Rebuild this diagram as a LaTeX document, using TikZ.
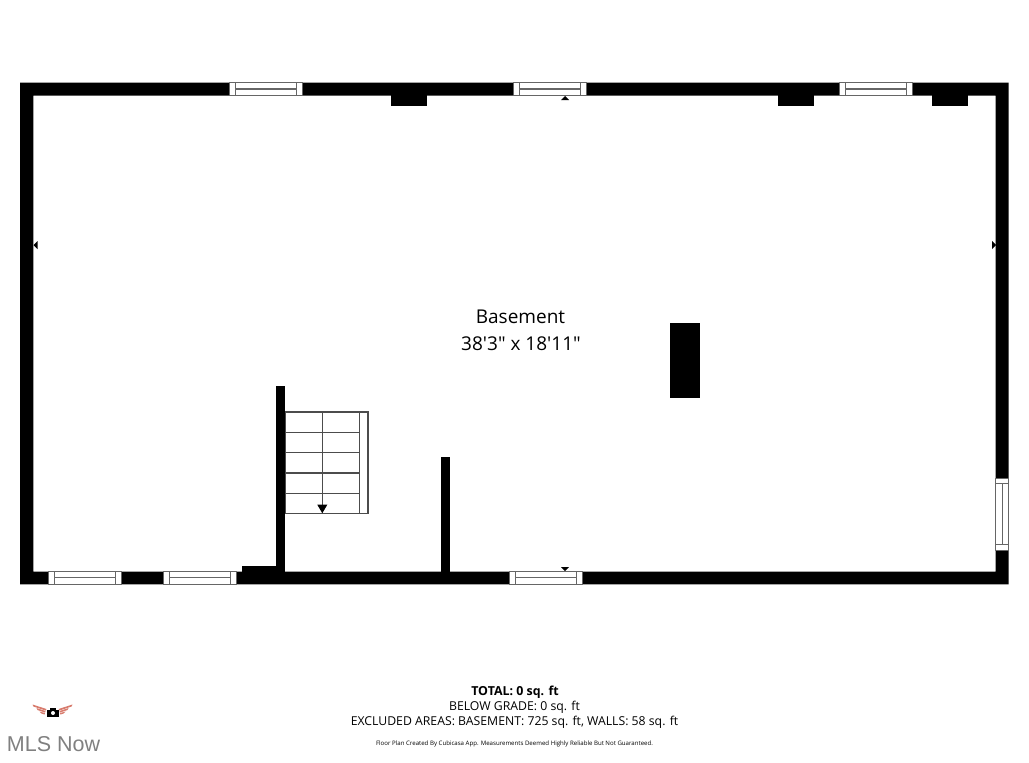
\documentclass[tikz,border=0pt]{standalone}
\usepackage{fontspec}
\newfontfamily\planfont{Open Sans}
\newfontfamily\logofont{Liberation Sans}
\definecolor{wallgray}{gray}{0.4}
\definecolor{wingred}{RGB}{216,124,110}
\tikzset{
	wallpart/.style={fill=black, draw=none},
	frameline/.style={draw=wallgray, line width=1.1pt, fill=white},
	stairline/.style={draw=black!70, line width=1.1pt},
	planlabel/.style={inner sep=0pt, anchor=center}
}
\begin{document}
\begin{tikzpicture}[x=1pt, y=-1pt]
	\useasboundingbox (0, 0) rectangle (1029, 763);

	%walls
	\fill [wallpart, even odd rule] (20, 82.5) rectangle (1008.7, 584.3) (33.3, 95.5) rectangle (995.7, 571.7);
	\foreach \xa/\ya/\xb/\yb in {
		391.3/95/427/106.3,
		778.3/95/814.3/106.3,
		932.3/95/968.3/106.3,
		670/323/700/397.5,
		276/385.7/285.3/572,
		242.3/565.7/276/572,
		440.7/457.3/450/572
	}\fill [wallpart] (\xa, \ya) rectangle (\xb, \yb);

	%windows along top and bottom
	\foreach \x/\y in {229.3/82.5, 513.3/82.5, 839.3/82.5, 48.3/571.4, 163.5/571.4, 509.3/571.4}{
		\draw [frameline] (\x, \y) rectangle ++(73.3, 13);
		\draw [frameline] (\x + 6.2, \y) rectangle ++(60.9, 13);
		\draw [frameline] (\x + 6.2, \y + 6.5) -- ++(60.9, 0);
	}

	%window on the right
	\draw [frameline] (995.7, 478.3) rectangle (1008.7, 550.7);
	\draw [frameline] (995.7, 483.6) rectangle (1008.7, 544.6);
	\draw [frameline] (1002.2, 483.6) -- (1002.2, 544.6);

	%marks
	\foreach \xa/\ya/\xb/\yb/\xc/\yc in {
		561/100/569/100/565/96,
		561/567/569/567/565/571,
		37.5/241/37.5/249/33.5/245,
		992/241/992/249/996/245
	}\fill [black] (\xa, \ya) -- (\xb, \yb) -- (\xc, \yc) -- cycle;

	%stairs
	\draw [stairline] (285.3, 412) rectangle (359.3, 513.3);
	\draw [stairline] (359.3, 412) rectangle (368, 513.3);
	\foreach \y in {432.3, 452.7, 473, 493.3}
		\draw [stairline] (285.3, \y) -- (359.3, \y);
	\draw [stairline] (322.3, 412) -- (322.3, 505);
	\fill [black] (317.3, 504.7) -- (327.3, 504.7) -- (322.3, 513.3) -- cycle;

	%labels
	\node [planlabel, font=\planfont\fontsize{19}{22}\selectfont] (roomname) at (520.5, 316.5) {Basement};
	\node [planlabel, font=\planfont\fontsize{19}{22}\selectfont] (roomsize) at (521, 343.5) {38'3" x 18'11"};
	\node [planlabel, font=\planfont\bfseries\fontsize{12.4}{15}\selectfont] (total) at (515, 692.7) {TOTAL: 0 sq. ft};
	\node [planlabel, font=\planfont\fontsize{12.25}{15}\selectfont] (below) at (514.5, 707.5) {BELOW GRADE: 0 sq. ft};
	\node [planlabel, font=\planfont\fontsize{12.25}{15}\selectfont] (excluded) at (514.5, 722.2) {EXCLUDED AREAS: BASEMENT: 725 sq. ft, WALLS: 58 sq. ft};
	\node [planlabel, font=\planfont\fontsize{6.1}{7}\selectfont] (disclaimer) at (514.5, 743.7) {Floor Plan Created By Cubicasa App. Measurements Deemed Highly Reliable But Not Guaranteed.};

	%logo
	\foreach \s in {-1, 1}{
		\fill [wingred] (52.5 + \s*6, 709) -- (52.5 + \s*20, 704.5) -- (52.5 + \s*19, 706.5) -- (52.5 + \s*7, 710.5) -- cycle;
		\fill [wingred] (52.5 + \s*7, 711) -- (52.5 + \s*16, 708) -- (52.5 + \s*15, 710) -- (52.5 + \s*7.5, 712.5) -- cycle;
		\fill [wingred] (52.5 + \s*7.5, 713) -- (52.5 + \s*13, 711.5) -- (52.5 + \s*11, 713.5) -- (52.5 + \s*8, 714.5) -- cycle;
	}
	\fill [black] (47, 709.5) rectangle (59, 716.5);
	\fill [black] (50, 708) rectangle (56, 710);
	\fill [white] (53, 713) circle (2);
	\node [planlabel, font=\logofont\fontsize{21.5}{24}\selectfont, text=black!50] (mlsname) at (53.5, 744) {MLS Now};
\end{tikzpicture}
\end{document}
